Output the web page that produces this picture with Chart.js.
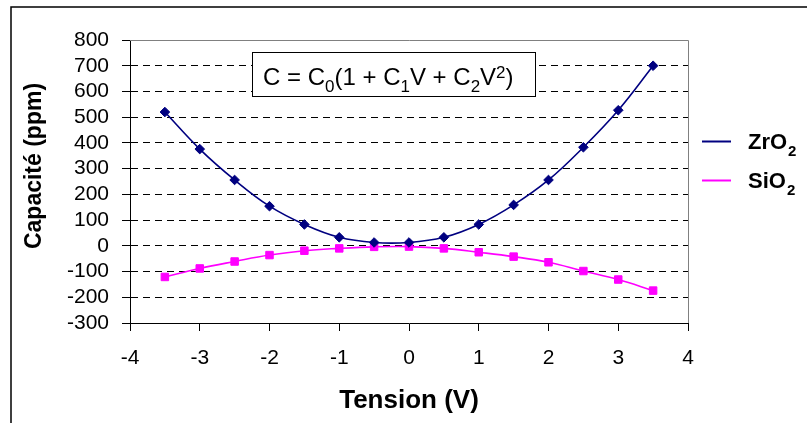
<!DOCTYPE html>
<html>
<head>
<meta charset="utf-8">
<script src="https://cdn.jsdelivr.net/npm/chart.js@4.4.1/dist/chart.umd.min.js"></script>
<style>
  html, body { margin: 0; padding: 0; background: #fff; }
  #wrap { width: 807px; height: 423px; }
</style>
</head>
<body>
<div id="wrap"><canvas id="c" width="807" height="423" style="width:807px;height:423px"></canvas></div>
<script>
// ---- Data ----
const tension = [-3.5, -3, -2.5, -2, -1.5, -1, -0.5, 0, 0.5, 1, 1.5, 2, 2.5, 3, 3.5];
const zro2 = [520, 376, 256, 154, 83, 33, 13, 13, 33, 83, 159, 256, 383, 527, 700];
const sio2 = [-121, -88, -61, -36, -19, -10, -4, -3, -10, -25, -42, -64, -98, -131, -174];
const seriesNames = ['ZrO', 'SiO'];
const yTitle = 'Capacité (ppm)';
const xTitle = 'Tension (V)';
const yMin = -300, yMax = 800, yStep = 100;
const xMin = -4, xMax = 4, xStep = 1;

const FONT = "'Liberation Sans', Arial, Helvetica, sans-serif";
const NAVY = '#000080';
const MAGENTA = '#FF00FF';

const toPts = (xs, ys) => xs.map((x, i) => ({ x: x, y: ys[i] }));

const decor = {
  id: 'decor',
  beforeDraw(chart) {
    const ctx = chart.ctx;
    ctx.save();
    ctx.fillStyle = '#fff';
    ctx.fillRect(0, 0, chart.width, chart.height);
    ctx.strokeStyle = '#000';
    ctx.lineWidth = 1.5;
    ctx.beginPath();
    ctx.moveTo(11, chart.height + 2);
    ctx.lineTo(11, 7);
    ctx.lineTo(chart.width + 2, 7);
    ctx.stroke();
    ctx.restore();
  },
  beforeDatasetsDraw(chart) {
    const ctx = chart.ctx;
    const a = chart.chartArea;
    ctx.save();
    ctx.strokeStyle = '#808080';
    ctx.lineWidth = 1;
    ctx.beginPath();
    ctx.moveTo(a.left, a.top + 0.5);
    ctx.lineTo(a.right + 0.5, a.top + 0.5);
    ctx.lineTo(a.right + 0.5, a.bottom);
    ctx.stroke();
    ctx.restore();
  },
  afterDatasetsDraw(chart) {
    const ctx = chart.ctx;
    ctx.save();
    // Equation box
    ctx.fillStyle = '#fff';
    ctx.fillRect(252, 52, 284, 45);
    ctx.strokeStyle = '#000';
    ctx.lineWidth = 1;
    ctx.strokeRect(252.5, 52.5, 283, 44);
    ctx.fillStyle = '#000';
    ctx.textBaseline = 'alphabetic';
    ctx.textAlign = 'left';
    const main = '24px ' + FONT, small = '17px ' + FONT;
    const base = 85;
    const parts = [
      ['C = C', main, 0], ['0', small, 7], ['(1 + C', main, 0], ['1', small, 7],
      ['V + C', main, 0], ['2', small, 7], ['V', main, 0], ['2', small, -7], [')', main, 0]
    ];
    let x = 263;
    for (const [t, f, dy] of parts) {
      ctx.font = f;
      ctx.fillText(t, x, base + dy);
      x += ctx.measureText(t).width;
    }
    // Legend
    const leg = [[seriesNames[0], NAVY, 141.5], [seriesNames[1], MAGENTA, 180.5]];
    for (const [name, col, y] of leg) {
      ctx.strokeStyle = col;
      ctx.lineWidth = 2;
      ctx.beginPath();
      ctx.moveTo(702, y);
      ctx.lineTo(731, y);
      ctx.stroke();
      ctx.fillStyle = '#000';
      ctx.font = 'bold 22px ' + FONT;
      ctx.fillText(name, 748, y + 7.5);
      const w = ctx.measureText(name).width;
      ctx.font = 'bold 15px ' + FONT;
      ctx.fillText('2', 748 + w + 1, y + 14.5);
    }
    // Y title
    ctx.translate(35, 166);
    ctx.rotate(-Math.PI / 2);
    ctx.font = 'bold 23px ' + FONT;
    ctx.textAlign = 'center';
    ctx.textBaseline = 'middle';
    ctx.fillText(yTitle, 0, 0);
    ctx.restore();
  }
};

new Chart(document.getElementById('c'), {
  type: 'line',
  data: {
    datasets: [
      {
        label: seriesNames[0] + '2',
        data: toPts(tension, zro2),
        borderColor: NAVY,
        backgroundColor: NAVY,
        borderWidth: 1.6,
        pointStyle: 'rectRot',
        pointRadius: 4.8,
        pointBorderWidth: 1,
        tension: 0.4,
        fill: false
      },
      {
        label: seriesNames[1] + '2',
        data: toPts(tension, sio2),
        borderColor: MAGENTA,
        backgroundColor: MAGENTA,
        borderWidth: 1.6,
        pointStyle: 'rect',
        pointRadius: 5.3,
        pointBorderWidth: 1,
        tension: 0.4,
        fill: false
      }
    ]
  },
  options: {
    responsive: false,
    animation: false,
    devicePixelRatio: 1,
    layout: { padding: { left: 12, right: 119, top: 40, bottom: 0 } },
    plugins: { legend: { display: false }, tooltip: { enabled: false } },
    scales: {
      x: {
        type: 'linear',
        min: xMin, max: xMax,
        ticks: { stepSize: xStep, color: '#000', font: { family: FONT, size: 21 }, padding: 15, maxRotation: 0, autoSkip: false },
        grid: { drawOnChartArea: false, drawTicks: true, tickLength: 8, tickColor: '#000', color: '#000' },
        border: { color: '#000', width: 1 },
        title: { display: true, text: xTitle, color: '#000', font: { family: FONT, size: 26, weight: 'bold' }, padding: { top: 0, bottom: 7 } },
        afterFit: s => { s.height = 100; }
      },
      y: {
        min: yMin, max: yMax,
        ticks: { stepSize: yStep, color: '#000', font: { family: FONT, size: 21, lineHeight: 1 }, padding: 13, autoSkip: false },
        grid: {
          color: c => (c.tick && (c.tick.value === yMax || c.tick.value === yMin)) ? 'rgba(0,0,0,0)' : '#000',
          lineWidth: 1,
          drawTicks: true, tickLength: 8, tickColor: '#000', tickBorderDash: []
        },
        border: { color: '#000', width: 1, dash: [7, 5] },
        afterFit: s => { s.width = 118; }
      }
    }
  },
  plugins: [decor]
});
</script>
</body>
</html>
